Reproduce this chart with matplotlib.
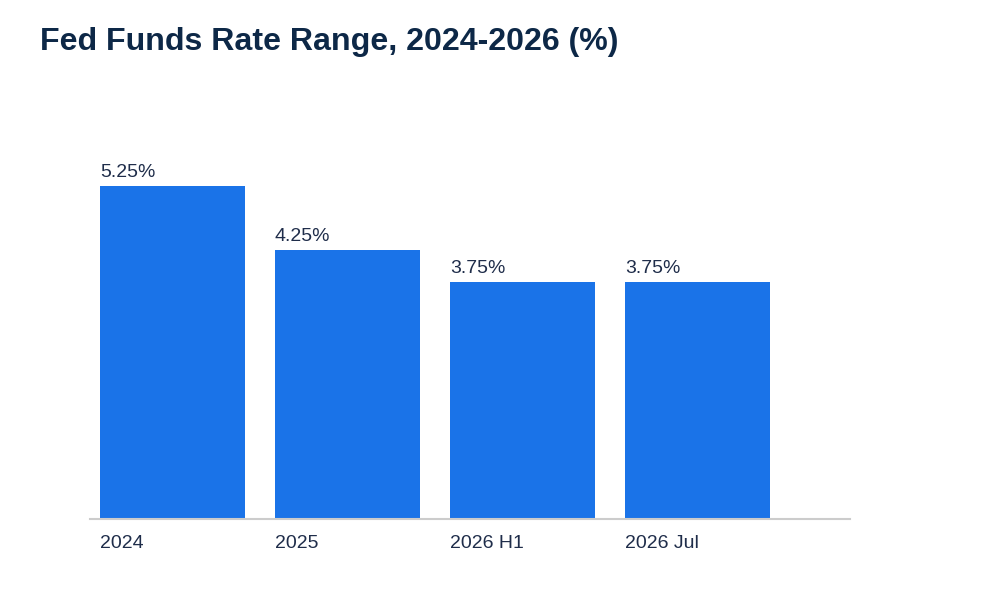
import matplotlib
matplotlib.use("Agg")
import matplotlib.pyplot as plt

categories = ["2024", "2025", "2026 H1", "2026 Jul"]
values = [5.25, 4.25, 3.75, 3.75]
value_labels = ["5.25%", "4.25%", "3.75%", "3.75%"]

plt.rcParams['font.family'] = ['Liberation Sans', 'DejaVu Sans']

fig = plt.figure(figsize=(10, 6), dpi=100)
ax = fig.add_axes([0.09, 0.1342, 0.76, 0.70])

bar_w = 145 / 175
xs = list(range(len(categories)))
ax.bar(xs, values, width=bar_w, color="#1a73e8", zorder=2)

ax.set_xlim(-0.4714, 3.8714)
ax.set_ylim(0, 0.70 * 600 / 63.45)

text_color = "#1f2d4a"
for x, v, lab in zip(xs, values, value_labels):
    ax.annotate(lab, xy=(x - bar_w / 2, v), xytext=(0, 6.5), textcoords="offset points",
                ha="left", va="baseline", fontsize=14, color=text_color)

ax.set_xticks([x - bar_w / 2 for x in xs])
ax.set_xticklabels(categories, ha="left", fontsize=14, color=text_color)
ax.tick_params(axis="x", length=0, pad=11.5)
ax.set_yticks([])

for s in ["top", "right", "left"]:
    ax.spines[s].set_visible(False)
ax.spines["bottom"].set_color("#cccccc")
ax.spines["bottom"].set_linewidth(1.5)

fig.text(0.040, 1 - 50 / 600, "Fed Funds Rate Range, 2024-2026 (%)", fontsize=23.1,
         fontweight="bold", color="#0d2847", ha="left", va="baseline")

fig.savefig("out.png", dpi=100, facecolor="white")
